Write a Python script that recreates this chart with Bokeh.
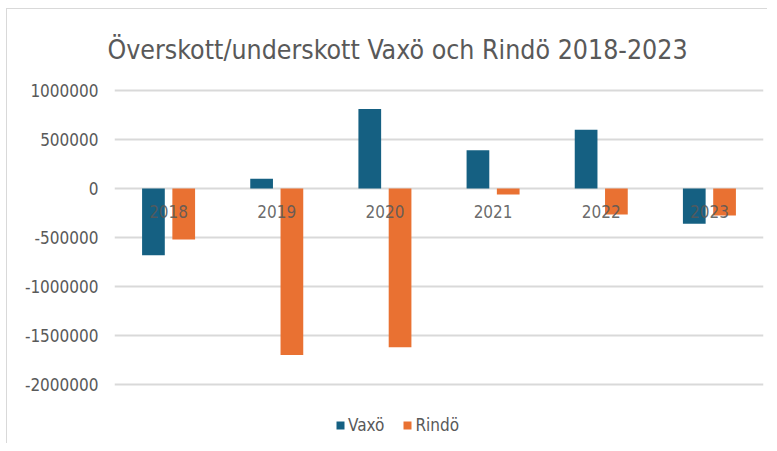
from bokeh.plotting import figure
from bokeh.models import (ColumnDataSource, FactorRange, FixedTicker, NumeralTickFormatter,
                          Legend, LegendItem, Title)
from bokeh.transform import dodge
from bokeh.core.properties import value
from bokeh.embed import file_html
from bokeh.resources import INLINE

years = ["2018", "2019", "2020", "2021", "2022", "2023"]
vaxo = [-680000, 100000, 810000, 390000, 600000, -360000]
rindo = [-520000, -1700000, -1620000, -60000, -265000, -275000]
y_ticks = [-2000000, -1500000, -1000000, -500000, 0, 500000, 1000000]
series_names = ["Vaxö", "Rindö"]
title_text = "Överskott/underskott Vaxö och Rindö 2018-2023"

C_VAXO = "#156082"
C_RINDO = "#E97132"
TXT = "#595959"
FONT = "DejaVu Sans Condensed"

src = ColumnDataSource(dict(years=years, vaxo=vaxo, rindo=rindo, zero=[0] * len(years)))

# frame extends below the lowest tick so the legend sits inside it
p = figure(width=761, height=435, x_range=FactorRange(factors=years, range_padding=0),
           y_range=(-2591837, 1030612), output_backend="svg", toolbar_location=None,
           min_border_left=107, min_border_right=5, min_border_top=78, min_border_bottom=2)
p.styles = {"margin-left": "6px", "margin-top": "8px",
            "border-top": "1px solid #d9d9d9", "border-left": "1px solid #d9d9d9"}
p.title = Title(text=title_text, align="left", offset=-7, standoff=45,
                text_font_size="26.5px", text_font_style="normal",
                text_color=TXT, text_font=FONT)

r1 = p.vbar(x=dodge("years", -0.14, range=p.x_range), top="vaxo", bottom=0, width=0.21,
            source=src, fill_color=C_VAXO, line_color=None)
r2 = p.vbar(x=dodge("years", 0.14, range=p.x_range), top="rindo", bottom=0, width=0.21,
            source=src, fill_color=C_RINDO, line_color=None)

p.text(x="years", y="zero", text="years", source=src, text_align="center",
       text_baseline="middle", y_offset=23, text_color=TXT, text_font_size="17px",
       text_font=value(FONT), text_alpha=0.9)

p.xaxis.visible = False
p.xgrid.visible = False
p.yaxis.ticker = FixedTicker(ticks=y_ticks)
p.yaxis.formatter = NumeralTickFormatter(format="0")
p.yaxis.axis_line_color = None
p.yaxis.major_tick_line_color = None
p.yaxis.minor_tick_line_color = None
p.yaxis.major_label_text_color = TXT
p.yaxis.major_label_text_font_size = "17px"
p.yaxis.major_label_text_font = FONT
p.yaxis.major_label_standoff = 10
p.ygrid.ticker = FixedTicker(ticks=y_ticks)
p.ygrid.grid_line_color = "#d9d9d9"
p.ygrid.grid_line_width = 2
p.outline_line_color = None

legend = Legend(items=[LegendItem(label=series_names[0], renderers=[r1]),
                       LegendItem(label=series_names[1], renderers=[r2])],
                orientation="horizontal", location=(221, 7), border_line_color=None,
                background_fill_alpha=0,
                label_text_color=TXT, label_text_font_size="17px", label_text_font=FONT,
                glyph_width=10, glyph_height=10, spacing=18, label_standoff=3,
                padding=0, margin=0)
p.add_layout(legend, "center")

open("out.html", "w").write(file_html(p, INLINE))
